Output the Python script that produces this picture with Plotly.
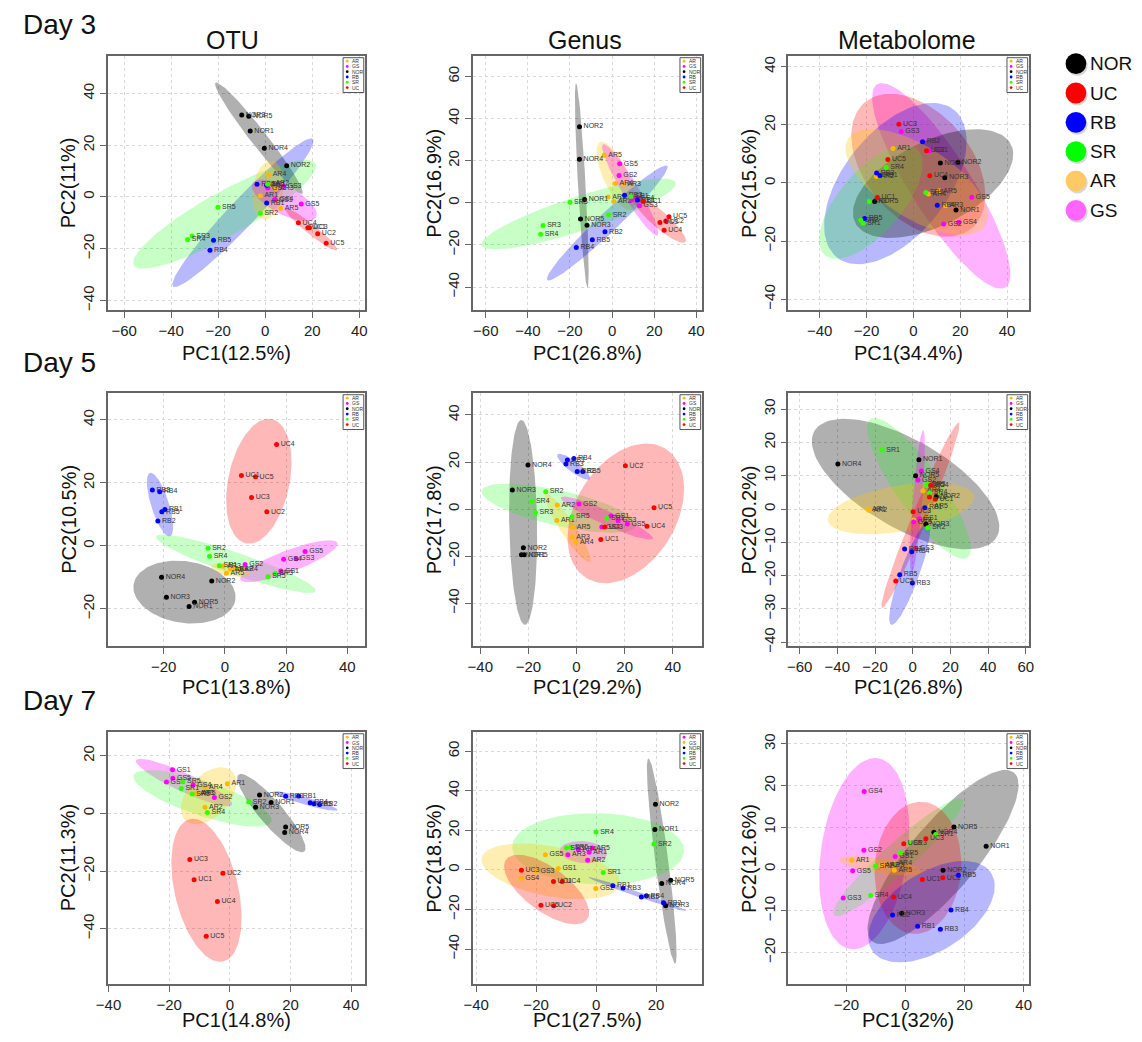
import numpy as np
import plotly.graph_objects as go

# page offset (body margin) compensation
OFF = 8
W, H = 1142 - OFF, 1042 - OFF

# ---------------- data ----------------
# Day 3 OTU
d3_otu_lab = ["NOR3","NOR5","NOR1","NOR4","NOR2","AR4","AR2","AR3","AR1","AR5","GS3","GS2","GS1","GS4","GS5",
              "RB3","RB2","RB1","RB5","RB4","SR1","SR2","SR3","SR4","SR5","UC4","UC1","UC3","UC2","UC5"]
d3_otu_x = [-10.0,-7.0,-6.4,-0.4,9.1, 1.4,2.6,4.5,-2.1,6.5, 7.7,1.1,3.9,4.3,15.3,
            -3.5,0.6,0.6,-22.0,-23.5, 1.0,-2.1,-31.1,-33.0,-20.1, 14.1,18.1,18.8,22.3,25.9]
d3_otu_y = [31.7,31.2,25.5,18.8,12.1, 8.6,5.1,3.3,0.5,-4.4, 4.1,3.5,-1.2,-1.0,-2.7,
            4.9,4.5,-2.3,-16.7,-20.6, 4.9,-6.3,-15.1,-16.5,-4.0, -10.0,-11.9,-11.9,-14.2,-17.9]
d3_otu_ell = [("NOR",-2.7,22.7,28.3,3.3,-49.3),("RB",-9.5,-6.1,41.2,5.5,43.7),("SR",-17.3,-6.7,43.3,8.7,26.8),
              ("AR",1.1,2.6,11.5,6.5,80),("GS",8.1,-1.3,15,5.5,-25),("UC",19.6,-12.6,13.5,2.0,-36)]

# Day 3 Genus
d3_gen_lab = ["NOR2","NOR4","NOR1","NOR5","NOR3","AR5","AR4","AR3","AR1","AR2","GS5","GS2","GS1","GS3","GS4",
              "RB3","RB1","RB2","RB5","RB4","SR1","SR5","SR2","SR3","SR4","UC1","UC5","UC3","UC2","UC4"]
d3_gen_x = [-15.5,-15.5,-13.1,-15.0,-11.9, -3.75,1.6,5.3,-1.9,0.8, 3.6,3.3,9.2,13.0,11.4,
            5.9,12.0,-3.4,-9.4,-17.0, 8.9,-20.0,-1.7,-32.8,-33.9, 14.7,27.0,22.7,25.5,24.7]
d3_gen_y = [36.1,20.7,1.6,-7.7,-10.7, 22.6,9.1,8.9,2.7,0.6, 18.5,12.9,1.3,-1.4,2.2,
            3.6,1.3,-13.8,-17.6,-21.2, 3.0,0.2,-5.7,-10.8,-14.9, 0.6,-6.6,-9.3,-8.6,-13.0]
d3_gen_ell = [("NOR",-14.4,8.2,48.6,1.8,-86.8),("AR",1.7,12.7,17.7,5.9,-65.3),("GS",8.6,6.1,25.2,3.9,-59.2),
              ("RB",-2.3,-9.6,39.3,4.7,43.5),("SR",-15.9,-5.3,48.4,8.2,17.9),("UC",22.3,-7.7,16.6,3.9,-41.3)]

# Day 3 Metabolome
d3_met_lab = ["NOR4","NOR2","NOR3","NOR5","NOR1","UC3","UC2","UC5","UC4","UC1","GS3","GS1","GS5","GS2","GS4",
              "RB2","RB3","RB1","RB4","RB5","AR1","AR2","AR4","AR5","AR3","SR4","SR3","SR5","SR2","SR1"]
d3_met_x = [11.5,19.0,13.4,-16.5,18.2, -6.2,5.6,-10.9,7.0,-15.4, -5.2,7.0,24.9,12.9,19.4,
            3.9,-15.7,-14.3,10.2,-20.8, -8.7,-15.8,6.4,11.0,13.7, -11.6,-18.9,5.3,-22.5,-21.5]
d3_met_y = [6.9,7.1,1.8,-6.4,-9.3, 20.2,11.1,8.1,2.5,-5.0, 17.7,11.1,-4.9,-14.1,-13.5,
            14.2,3.4,2.6,-7.7,-12.2, 11.9,2.2,-3.8,-2.7,-7.8, 5.3,-6.4,-3.3,-12.8,-13.9]
d3_met_ell = [("GS",11.9,-1.0,44.5,12,-51),("UC",2.1,6.1,32,20,-35),("RB",-7.7,-0.2,36,20,40),
              ("NOR",8.4,-0.2,36,15,20),("SR",-18.2,-6.5,27,12,40),("AR",1.4,0.3,33,13,-25)]

# Day 5 OTU
d5_otu_lab = ["UC4","UC1","UC5","UC3","UC2","RB3","RB4","RB1","RB5","RB2","SR2","SR4","SR1","SR5","SR3",
              "AR3","AR1","AR2","AR4","AR5","GS5","GS4","GS3","GS2","GS1","NOR4","NOR2","NOR3","NOR5","NOR1"]
d5_otu_x = [16.9,5.4,10.0,8.7,13.7, -23.7,-21.3,-19.6,-20.6,-21.9, -5.5,-5.0,-1.8,14.1,16.4,
            -0.6,1.8,3.4,5.0,0.5, 26.2,19.2,23.3,6.6,18.3, -20.7,-4.3,-19.1,-9.9,-11.7]
d5_otu_y = [32.2,22.3,21.9,15.3,10.8, 17.7,17.2,11.5,10.8,7.9, -0.8,-3.3,-6.3,-9.8,-8.8,
            -6.5,-7.4,-7.3,-7.5,-8.7, -1.8,-4.3,-4.1,-5.9,-8.0, -10.0,-11.2,-16.3,-17.9,-19.3]
d5_otu_ell = [("UC",11.1,20.5,20.2,10,77.7),("RB",-21.2,13.1,10.6,2.9,-72),("SR",3.6,-5.7,27.5,3.5,-18.4),
              ("GS",20.9,-4.9,16.9,3.5,20),("AR",1.8,-7.6,6.4,2.0,-10),("NOR",-13.2,-14.7,16.8,9.8,-8)]

# Day 5 Genus
d5_gen_lab = ["NOR4","NOR3","NOR2","NOR1","NOR5","RB1","RB4","RB3","RB2","RB5","UC2","UC5","UC4","UC1","UC3",
              "SR2","SR4","SR3","SR5","SR1","AR2","AR1","AR5","AR3","AR4","GS2","GS1","GS3","GS5","GS4"]
d5_gen_x = [-20.2,-26.7,-22.1,-22.9,-21.8, -3.8,-1.1,-4.4,0.3,2.6, 20.3,32.2,29.3,10.1,11.7,
            -12.8,-18.6,-17.1,-1.9,12.6, -8.0,-8.2,-1.6,-1.8,-0.3, 1.0,14.3,17.3,21.1,10.5]
d5_gen_y = [18.7,8.1,-16.4,-19.4,-19.4, 20.9,21.5,19.2,16.0,16.0, 18.4,0.6,-7.3,-12.9,-7.6,
            7.4,3.4,-1.5,-3.2,-3.9, 1.8,-4.8,-7.6,-11.9,-13.9, 2.2,-2.9,-4.9,-6.3,-7.6]
d5_gen_ell = [("NOR",-22.2,-5.6,43.5,5.8,-89),("RB",-1.2,18.0,8.5,2.3,-38),("SR",-7.2,0.4,33,7.5,-13),
              ("AR",-3.7,-8.0,17,3.1,-57.7),("GS",12.6,-3.8,21,3.0,-24.7),("UC",20.5,-1.8,32,21,60)]

# Day 5 Metabolome
d5_met_lab = ["NOR4","NOR1","NOR5","NOR2","NOR3","SR1","SR3","SR4","SR5","SR2","UC4","UC2","UC1","UC3","UC5",
              "AR4","AR5","AR1","AR2","AR3","GS4","GS2","GS1","GS5","GS3","RB1","RB2","RB4","RB5","RB3"]
d5_met_x = [-39.7,3.3,1.5,12.5,7.0, -16.2,7.9,9.0,7.4,8.0, 9.5,8.9,12.0,0.2,-9.0,
            5.4,9.3,-23.8,-23.0,0.5, 4.6,2.8,3.6,0.5,1.6, 6.4,-4.3,-0.5,-6.9,-0.2]
d5_met_y = [13.5,14.8,10.0,3.7,-4.6, 17.7,7.4,4.9,7.0,-5.6, 7.1,3.6,2.9,-0.8,-21.6,
            5.5,0.9,-0.1,-0.4,-3.3, 11.4,8.7,-2.9,-3.9,-11.8, 0.4,-12.0,-12.8,-19.7,-22.2]
d5_met_ell = [("NOR",-3.8,7.5,51.5,14.3,-15.7),("SR",3.3,6.2,33.5,9,-36.4),("AR",-6.2,0.2,39,7,5),
              ("GS",2.5,2.2,21.7,2.5,81.8),("UC",4.1,-1.9,34.5,3.5,53.5),("RB",-1.6,-19.4,18.3,4.5,56)]

# Day 7 OTU
d7_otu_lab = ["GS1","GS5","GS3","GS4","GS2","SR5","SR1","SR3","SR2","SR4","AR4","AR1","AR3","AR5","AR2",
              "NOR2","NOR1","NOR3","NOR5","NOR4","RB3","RB1","RB4","RB5","RB2","UC3","UC2","UC1","UC4","UC5"]
d7_otu_x = [-18.9,-18.8,-20.9,-12.1,-5.1, -15.5,-16.0,-12.4,6.2,-7.4, -8.2,-0.8,-11.1,-10.5,-8.2,
            9.8,13.6,8.5,18.4,18.1, 18.4,22.7,26.5,27.8,29.6, -13.2,-2.3,-11.8,-4.1,-7.8]
d7_otu_y = [15.1,12.2,10.9,9.9,5.5, 11.0,8.6,6.7,3.9,0.3, 9.1,10.3,6.9,6.9,2.1,
            6.4,3.8,2.1,-4.7,-6.6, 5.9,6.0,3.7,3.3,3.1, -16.0,-20.8,-23.0,-30.6,-42.6]
d7_otu_ell = [("GS",-15.1,10.7,17.6,3.2,-26),("SR",-9.0,5.2,24.1,6.0,-19.5),("AR",-7.0,6.1,11.5,7,50),
              ("NOR",13.7,0.1,17.2,4.0,-51),("RB",24.9,4.3,11.1,1.3,-16.6),("UC",-7.7,-26.7,25.3,10.5,-77.7)]

# Day 7 Genus (AR / GS colours swapped in the original)
d7_gen_lab = ["NOR2","NOR1","NOR5","NOR4","NOR3","SR4","SR3","SR5","SR1","SR2","AR4","AR5","AR1","AR3","AR2",
              "GS5","GS1","GS3","GS4","GS2","UC3","UC1","UC4","UC5","UC2","RB1","RB3","RB5","RB4","RB2"]
d7_gen_x = [19.8,19.6,24.9,21.9,23.2, 0.0,-9.9,-8.5,2.4,19.3, -5.9,-1.3,-2.3,-9.4,-2.8,
            -16.9,-12.6,-19.9,-25.0,-0.1, -24.9,-14.2,-11.3,-18.4,-14.1, 5.6,9.0,15.1,16.8,22.5]
d7_gen_y = [33.2,20.4,-5.2,-6.9,-18.1, 19.1,11.1,11.4,-1.3,13.1, 10.2,11.1,8.9,7.7,4.9,
            7.7,0.7,-0.7,-4.2,-9.4, -0.2,-5.9,-5.9,-17.9,-18.1, -8.0,-9.2,-13.7,-13.1,-16.6]
d7_gen_ell = [("NOR",21.9,4.5,52,2.2,-85.1),("SR",0.7,10.7,28.7,18,-3),("AR",-4.2,9.0,8,5.5,-10),
              ("GS",-15.1,-0.7,24.1,12.3,-19.4),("UC",-16.5,-9.9,20.7,9,-54),("RB",13.8,-12.2,18.4,1.2,-27.6)]

# Day 7 Metabolome
d7_met_lab = ["GS4","GS2","GS1","GS5","GS3","NOR5","NOR4","NOR1","NOR2","NOR3","SR1","SR3","SR5","SR2","SR4",
              "UC3","UC5","UC2","UC1","UC4","AR1","AR4","AR2","AR3","AR5","RB5","RB4","RB2","RB1","RB3"]
d7_met_x = [-14.0,-14.1,-3.5,-17.9,-21.1, 16.4,9.6,27.3,12.7,-1.3, 10.2,1.2,-1.7,-10.2,-11.8,
            6.9,-0.6,12.6,5.7,-4.0, -18.2,-3.8,-8.3,-6.5,-3.8, 17.9,15.4,-4.4,4.1,11.8]
d7_met_y = [18.6,4.5,3.0,-0.4,-6.9, 10.1,8.8,5.5,-0.3,-10.6, 8.3,6.3,3.9,0.7,-6.3,
            7.3,6.1,-2.1,-2.5,-6.7, 2.1,1.3,0.9,1.0,-0.3, -1.5,-9.8,-11.0,-13.7,-14.4]
d7_met_ell = [("GS",-14.0,3.7,23.4,14.5,74.9),("NOR",12.7,2.9,31.6,9.5,38),("SR",-2.5,2.8,25.8,4,32),
              ("AR",-8.5,0.8,14,1.8,-6),("UC",4.2,0.3,16,14.5,70),("RB",8.8,-10.2,22.5,10,20)]

groups = ["AR", "GS", "NOR", "RB", "SR", "UC"]
pc1_titles = ["PC1(12.5%)", "PC1(26.8%)", "PC1(34.4%)", "PC1(13.8%)", "PC1(29.2%)", "PC1(26.8%)",
              "PC1(14.8%)", "PC1(27.5%)", "PC1(32%)"]
pc2_titles = ["PC2(11%)", "PC2(16.9%)", "PC2(15.6%)", "PC2(10.5%)", "PC2(17.8%)", "PC2(20.2%)",
              "PC2(11.3%)", "PC2(18.5%)", "PC2(12.6%)"]
col_titles = ["OTU", "Genus", "Metabolome"]
row_titles = ["Day 3", "Day 5", "Day 7"]
big_legend = ["NOR", "UC", "RB", "SR", "AR", "GS"]

# ---------------- styling ----------------
pt_col = {"AR": "#FFB800", "GS": "#FF00FF", "NOR": "#000000", "RB": "#0000FF", "SR": "#33FF00", "UC": "#FF0000"}
fill_col = {"AR": "rgba(255,200,0,0.30)", "GS": "rgba(255,0,255,0.30)", "NOR": "rgba(0,0,0,0.31)",
            "RB": "rgba(0,0,255,0.28)", "SR": "rgba(0,255,0,0.22)", "UC": "rgba(255,0,0,0.28)"}
big_col = {"NOR": "#000000", "UC": "#FF0000", "RB": "#0000FF", "SR": "#00FF00", "AR": "#FFC966", "GS": "#FF66FF"}

FONT = "Arial, Liberation Sans, sans-serif"


def PX(v):
    return (v - OFF) / W


def PY(v):
    return 1 - (v - OFF) / H


panels = [
    dict(lab=d3_otu_lab, x=d3_otu_x, y=d3_otu_y, ell=d3_otu_ell, px=(97, 358), py=(56, 312), tt=43,
         xr=(-67, 42.3), yr=(-43.8, 54.6), xt=[-60, -40, -20, 0, 20, 40], yt=[-40, -20, 0, 20, 40], swap=False),
    dict(lab=d3_gen_lab, x=d3_gen_x, y=d3_gen_y, ell=d3_gen_ell, px=(468, 700), py=(56, 312), tt=43,
         xr=(-66, 42.5), yr=(-51, 69.8), xt=[-60, -40, -20, 0, 20, 40], yt=[-40, -20, 0, 20, 40, 60], swap=False),
    dict(lab=d3_met_lab, x=d3_met_x, y=d3_met_y, ell=d3_met_ell, px=(788, 1032), py=(56, 312), tt=43,
         xr=(-53.4, 49.2), yr=(-43.8, 43.8), xt=[-40, -20, 0, 20, 40], yt=[-40, -20, 0, 20, 40], swap=False),
    dict(lab=d5_otu_lab, x=d5_otu_x, y=d5_otu_y, ell=d5_otu_ell, px=(97, 358), py=(395, 650), tt=41,
         xr=(-38.3, 45.7), yr=(-31.9, 48.6), xt=[-20, 0, 20, 40], yt=[-20, 0, 20, 40], swap=False),
    dict(lab=d5_gen_lab, x=d5_gen_x, y=d5_gen_y, ell=d5_gen_ell, px=(468, 700), py=(395, 650), tt=41,
         xr=(-43, 52), yr=(-58.2, 49.4), xt=[-40, -20, 0, 20, 40], yt=[-60, -40, -20, 0, 20, 40], swap=False),
    dict(lab=d5_met_lab, x=d5_met_x, y=d5_met_y, ell=d5_met_ell, px=(788, 1032), py=(395, 650), tt=41,
         xr=(-66, 61.5), yr=(-41.2, 34.9), xt=[-60, -40, -20, 0, 20, 40, 60], yt=[-40, -30, -20, -10, 0, 10, 20, 30], swap=False),
    dict(lab=d7_otu_lab, x=d7_otu_x, y=d7_otu_y, ell=d7_otu_ell, px=(97, 358), py=(736, 990), tt=36,
         xr=(-40.3, 44.5), yr=(-59.3, 28.3), xt=[-40, -20, 0, 20, 40], yt=[-60, -40, -20, 0, 20], swap=False),
    dict(lab=d7_gen_lab, x=d7_gen_x, y=d7_gen_y, ell=d7_gen_ell, px=(468, 700), py=(736, 990), tt=36,
         xr=(-41, 35.2), yr=(-57.8, 69.8), xt=[-40, -20, 0, 20], yt=[-60, -40, -20, 0, 20, 40, 60], swap=True),
    dict(lab=d7_met_lab, x=d7_met_x, y=d7_met_y, ell=d7_met_ell, px=(788, 1032), py=(736, 990), tt=36,
         xr=(-39.7, 41.7), yr=(-27.6, 32.9), xt=[-20, 0, 20, 40], yt=[-20, -10, 0, 10, 20, 30], swap=False),
]


def grp_of(lbl):
    return lbl.rstrip("0123456789")


def colors_for(g, swap):
    if swap and g in ("AR", "GS"):
        g = "GS" if g == "AR" else "AR"
    return pt_col[g], fill_col[g]


fig = go.Figure()
shapes, annots = [], []
layout_axes = {}

for i, p in enumerate(panels):
    k = "" if i == 0 else str(i + 1)
    xa, ya = "x" + k, "y" + k
    t = np.linspace(0, 2 * np.pi, 120)
    for (g, cx, cy, a, b, ang) in p["ell"]:
        th = np.deg2rad(ang)
        ex = cx + a * np.cos(th) * np.cos(t) - b * np.sin(th) * np.sin(t)
        ey = cy + a * np.sin(th) * np.cos(t) + b * np.cos(th) * np.sin(t)
        _, fc = colors_for(g, p["swap"])
        fig.add_trace(go.Scatter(x=ex, y=ey, mode="lines", fill="toself", fillcolor=fc,
                                 line=dict(width=0), hoverinfo="skip", showlegend=False,
                                 xaxis=xa, yaxis=ya))
    for g in groups:
        idx = [j for j, l in enumerate(p["lab"]) if grp_of(l) == g]
        pc, _ = colors_for(g, p["swap"])
        fig.add_trace(go.Scatter(x=[p["x"][j] for j in idx], y=[p["y"][j] for j in idx],
                                 text=[p["lab"][j] for j in idx], mode="markers+text",
                                 textposition="middle right",
                                 textfont=dict(size=7, color="#333333", family=FONT),
                                 marker=dict(size=5, color=pc), showlegend=False,
                                 xaxis=xa, yaxis=ya))
    l, r = p["px"]
    tp, bt = p["py"]
    common = dict(showgrid=True, gridcolor="#d8d8d8", griddash="dot", gridwidth=1, zeroline=False,
                  showline=True, linecolor="#666666", linewidth=1.5, mirror=True,
                  ticks="outside", ticklen=6, tickwidth=1.2, tickcolor="#666666",
                  tickfont=dict(size=15, color="#222222", family=FONT))
    layout_axes["xaxis" + k] = dict(common, domain=[PX(l), PX(r)], range=list(p["xr"]),
                                    tickvals=p["xt"], anchor=ya)
    layout_axes["yaxis" + k] = dict(common, domain=[PY(bt), PY(tp)], range=list(p["yr"]),
                                    tickvals=p["yt"], tickangle=-90, anchor=xa)
    annots.append(dict(text=pc1_titles[i], x=PX((l + r) / 2), y=PY(bt + p["tt"]), xref="paper", yref="paper",
                       showarrow=False, font=dict(size=20, color="#111111", family=FONT),
                       xanchor="center", yanchor="middle"))
    annots.append(dict(text=pc2_titles[i], x=PX(l - 40), y=PY((tp + bt) / 2), xref="paper", yref="paper",
                       showarrow=False, textangle=-90, font=dict(size=20, color="#111111", family=FONT),
                       xanchor="center", yanchor="middle"))
    bw, bh = 21, 35
    bx1, by0 = r - 1, tp + 2
    bx0, by1 = bx1 - bw, by0 + bh
    shapes.append(dict(type="rect", xref="paper", yref="paper", x0=PX(bx0), x1=PX(bx1),
                       y0=PY(by1), y1=PY(by0), line=dict(color="#555555", width=1),
                       fillcolor="white", layer="above"))
    for m, g in enumerate(groups):
        cyp = by0 + 3.5 + m * 5.3
        pc, _ = colors_for(g, p["swap"])
        shapes.append(dict(type="circle", xref="paper", yref="paper",
                           x0=PX(bx0 + 2.8), x1=PX(bx0 + 5.6), y0=PY(cyp + 1.4), y1=PY(cyp - 1.4),
                           fillcolor=pc, line=dict(width=0), layer="above"))
        annots.append(dict(text=g, x=PX(bx0 + 7.5), y=PY(cyp), xref="paper", yref="paper",
                           showarrow=False, xanchor="left", yanchor="middle",
                           font=dict(size=5, color="#333333", family=FONT)))

for txt, cx in zip(col_titles, [224, 582, 908]):
    annots.append(dict(text=txt, x=PX(cx), y=PY(40), xref="paper", yref="paper", showarrow=False,
                       font=dict(size=25, color="#111111", family=FONT), xanchor="center", yanchor="middle"))
for txt, cy in zip(row_titles, [25, 365, 705]):
    annots.append(dict(text=txt, x=PX(9), y=PY(cy), xref="paper", yref="paper", showarrow=False,
                       font=dict(size=28, color="#111111", family=FONT), xanchor="left", yanchor="middle"))

for m, g in enumerate(big_legend):
    cy = 64 + m * 29.5
    cx = 1080
    rad = 10.5
    shapes.append(dict(type="circle", xref="paper", yref="paper",
                       x0=PX(cx - rad + 1.5), x1=PX(cx + rad + 1.5),
                       y0=PY(cy + rad + 2), y1=PY(cy - rad + 2),
                       fillcolor="rgba(0,0,0,0.16)", line=dict(width=0)))
    shapes.append(dict(type="circle", xref="paper", yref="paper",
                       x0=PX(cx - rad), x1=PX(cx + rad), y0=PY(cy + rad), y1=PY(cy - rad),
                       fillcolor=big_col[g], line=dict(width=0)))
    annots.append(dict(text=g, x=PX(1093), y=PY(cy), xref="paper", yref="paper", showarrow=False,
                       xanchor="left", yanchor="middle", borderpad=0,
                       font=dict(size=19, color="#111111", family=FONT)))

fig.update_layout(width=W, height=H, margin=dict(l=0, r=0, t=0, b=0),
                  paper_bgcolor="white", plot_bgcolor="white", showlegend=False,
                  shapes=shapes, annotations=annots, **layout_axes)

fig.write_html("out.html")
